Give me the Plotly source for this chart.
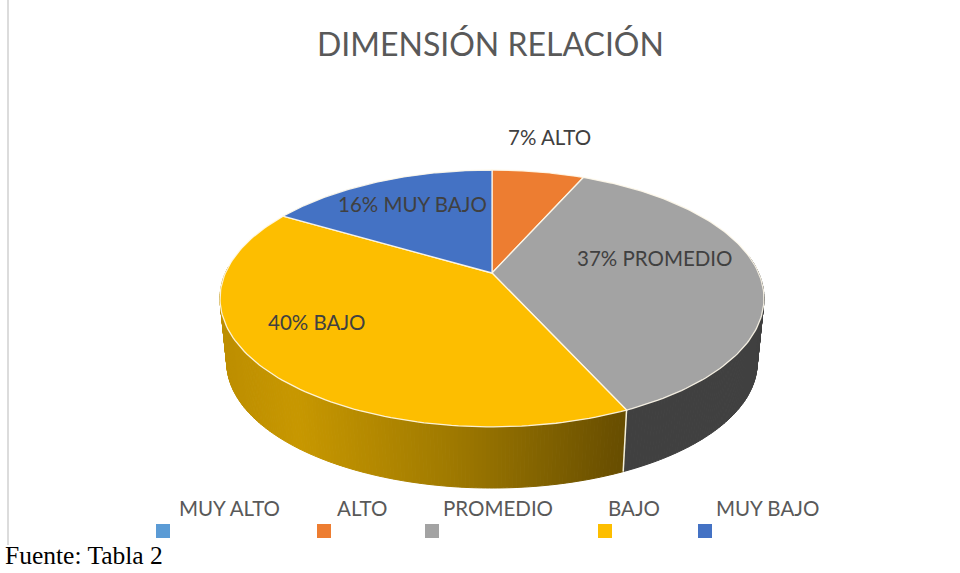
import numpy as np
import plotly.graph_objects as go

# Data
categories = ["MUY ALTO", "ALTO", "PROMEDIO", "BAJO", "MUY BAJO"]
percent = [0, 7, 37, 40, 16]

# Styles
colors = ["#5B9BD5", "#ED7D31", "#A3A3A3", "#FDBE00", "#4472C4"]
TITLE = "DIMENSIÓN RELACIÓN"
SOURCE = "Fuente: Tabla 2"
FONT = "Lato"

# Projection of the tilted disc onto page pixels
CX, CY, R, H, K = 492, 273, 266.6, 123.4, 0.198
WALL_Y, WALL_S = 338, 0.975
WARP = 0.05


def warp(theta):
    return theta - WARP * np.sqrt(np.abs(np.sin(theta / 2)))


def top(theta):
    t = warp(theta)
    u, v = np.sin(t), np.cos(t)
    d = 1 + K * v
    return CX + R * u / d, CY - H * v / d


def bottom(theta):
    t = warp(theta)
    u, v = np.sin(t), np.cos(t)
    d = 1 + K * v
    return CX + WALL_S * R * u / d, WALL_Y - WALL_S * H * v / d


def lerp_color(x):
    xs = [225, 295, 450, 622]
    rs = [190, 200, 160, 104]
    gs = [143, 152, 122, 78]
    bs = [0, 0, 0, 0]
    return "rgb(%d,%d,%d)" % (np.interp(x, xs, rs), np.interp(x, xs, gs), np.interp(x, xs, bs))


fig = go.Figure()
edges = 2 * np.pi * np.cumsum([0] + percent) / sum(percent)

# Walls: only the near half of the disc shows its side
VISIBLE_FROM, VISIBLE_TO = np.pi * 0.47, np.pi * 1.53


def wall_strip(a, b, color):
    th = np.array([a, b])
    xt, yt = top(th)
    xb, yb = bottom(th)
    fig.add_trace(go.Scatter(
        x=[xt[0], xt[1], xb[1], xb[0], xt[0]], y=[yt[0], yt[1], yb[1], yb[0], yt[0]],
        mode="lines", fill="toself", fillcolor=color, line=dict(color=color, width=1),
        hoverinfo="skip", showlegend=False))


for i in range(len(percent)):
    a, b = max(edges[i], VISIBLE_FROM), min(edges[i + 1], VISIBLE_TO)
    if b <= a:
        continue
    steps = np.linspace(a, b, max(2, int((b - a) / 0.012)))
    for s0, s1 in zip(steps[:-1], steps[1:]):
        if categories[i] == "PROMEDIO":
            col = "#404040"
        else:
            col = lerp_color(top((s0 + s1) / 2)[0])
        wall_strip(s0, s1, col)

# Divider on the wall between PROMEDIO and BAJO
div = edges[3]
fig.add_trace(go.Scatter(x=[top(div)[0], bottom(div)[0]], y=[top(div)[1], bottom(div)[1]],
                         mode="lines", line=dict(color="#F4F0DC", width=1.5),
                         hoverinfo="skip", showlegend=False))

# Top faces
for i in range(len(percent)):
    if percent[i] == 0:
        continue
    th = np.linspace(edges[i], edges[i + 1], 120)
    xs, ys = top(th)
    fig.add_trace(go.Scatter(
        x=np.r_[CX, xs, CX], y=np.r_[CY, ys, CY],
        mode="lines", fill="toself", fillcolor=colors[i],
        line=dict(color="rgba(255,250,235,0.9)", width=1.3),
        hoverinfo="skip", showlegend=False))

# Legend swatches
legend_x = [163, 324, 432, 605, 705]
legend_label_x = [229, 362, 498, 634, 767]
for i, c in enumerate(categories):
    fig.add_trace(go.Scatter(x=[legend_x[i]], y=[531], mode="markers",
                             marker=dict(symbol="square", size=14, color=colors[i]),
                             name=c, hoverinfo="skip", showlegend=False))

ann = []


def text(x, y, s, size, color, font=FONT, anchor="center", yanchor="middle"):
    ann.append(dict(x=x, y=y, xref="x", yref="y", text=s, showarrow=False, xanchor=anchor,
                    yanchor=yanchor, font=dict(family=font, size=size, color=color)))


text(490, 43, TITLE, 32, "#595959")
label_pos = {"ALTO": (549, 137), "PROMEDIO": (655, 258), "BAJO": (316, 322), "MUY BAJO": (412, 204)}
for c, p in zip(categories, percent):
    if c in label_pos:
        text(*label_pos[c], f"{p}% {c}", 20.5, "#404040")
for c, x in zip(categories, legend_label_x):
    text(x, 508, c, 20.5, "#595959")
text(3, 572, SOURCE, 25.5, "#000000", font="Liberation Serif", anchor="left", yanchor="bottom")

fig.update_layout(
    width=960, height=573, margin=dict(l=0, r=0, t=0, b=0),
    paper_bgcolor="white", plot_bgcolor="white", annotations=ann, showlegend=False,
    shapes=[dict(type="line", xref="x", yref="y", x0=8, x1=8, y0=0, y1=545,
                 line=dict(color="#DCDCDC", width=2))],
    xaxis=dict(range=[0, 960], visible=False, fixedrange=True),
    yaxis=dict(range=[573, 0], visible=False, fixedrange=True),
)
fig.write_html("out.html", config=dict(displayModeBar=False),
               post_script="document.body.style.margin='0';document.body.style.overflow='hidden';")
